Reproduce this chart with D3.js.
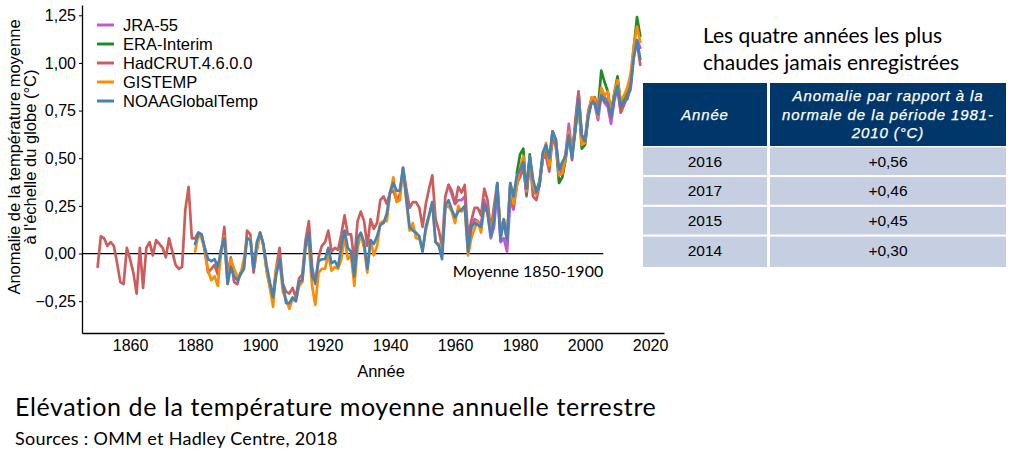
<!DOCTYPE html>
<html><head><meta charset="utf-8">
<script src="https://cdn.jsdelivr.net/npm/d3@7"></script>
<style>body{margin:0;background:#fff}svg{display:block}</style>
</head><body><svg id="c" width="1017" height="464"></svg>
<script>
// ---------------- DATA ----------------
const seriesNames  = ["JRA-55", "ERA-Interim", "HadCRUT.4.6.0.0", "GISTEMP", "NOAAGlobalTemp"];
const seriesColors = ["#c058d6", "#1f8a28", "#cd5c5c", "#ff8c00", "#4682b4"];

const hadcrutStart = 1850;
const hadcrut = [
 -0.07, 0.09, 0.08, 0.04, 0.06, 0.04,-0.05,-0.15,-0.16, 0.03,
 -0.03,-0.10,-0.21, 0.03,-0.18, 0.03, 0.06,-0.01, 0.07, 0.05,
  0.03,-0.02, 0.08, 0.01,-0.06,-0.08,-0.07, 0.23, 0.35, 0.08,
  0.08, 0.11, 0.10, 0.01,-0.10,-0.08,-0.06,-0.11, 0.00, 0.14,
 -0.11,-0.02,-0.15,-0.16,-0.10,-0.08, 0.12, 0.10,-0.10, 0.02,
  0.11, 0.05,-0.09,-0.17,-0.21,-0.07, 0.03,-0.16,-0.20,-0.21,
 -0.18,-0.23,-0.13,-0.11, 0.07, 0.17,-0.07,-0.16,-0.02, 0.04,
  0.06, 0.12, 0.01, 0.03, 0.02, 0.10, 0.20, 0.10, 0.10,-0.04,
  0.17, 0.22, 0.17, 0.04, 0.18, 0.13, 0.16, 0.28, 0.30, 0.26,
  0.32, 0.33, 0.28, 0.31, 0.45, 0.34, 0.24, 0.27, 0.27, 0.24,
  0.14, 0.26, 0.34, 0.41, 0.18, 0.12, 0.04, 0.30, 0.36, 0.33,
  0.26, 0.35, 0.32, 0.36, 0.09, 0.17, 0.24, 0.24, 0.20, 0.34,
  0.28, 0.12, 0.25, 0.37, 0.10, 0.16, 0.07, 0.36, 0.25, 0.37,
  0.40, 0.45, 0.32, 0.50, 0.30, 0.28, 0.36, 0.50, 0.51, 0.43,
  0.61, 0.56, 0.42, 0.46, 0.52, 0.64, 0.49, 0.70, 0.85, 0.62,
  0.60, 0.75, 0.81, 0.82, 0.76, 0.86, 0.82, 0.80, 0.71, 0.82,
  0.87, 0.74, 0.78, 0.82, 0.89, 1.07, 1.11, 0.99];

const gistempStart = 1880;
const gistemp = [
  0.01, 0.10, 0.08, 0.02,-0.09,-0.14,-0.12,-0.17, 0.02, 0.09,
 -0.16,-0.03,-0.08,-0.12,-0.11,-0.03, 0.08, 0.08,-0.08, 0.02,
  0.11, 0.04,-0.09,-0.18,-0.28,-0.07,-0.03,-0.20,-0.24,-0.29,
 -0.24,-0.25,-0.17,-0.15, 0.04, 0.05,-0.17,-0.27,-0.10,-0.08,
 -0.08, 0.00,-0.09,-0.07,-0.08,-0.03, 0.09,-0.03,-0.01,-0.17,
  0.03, 0.10, 0.03,-0.10, 0.07,-0.01, 0.04, 0.16, 0.17, 0.17,
  0.32, 0.40, 0.27, 0.28, 0.44, 0.28, 0.12, 0.16, 0.08, 0.08,
  0.02, 0.12, 0.20, 0.27, 0.06, 0.05, 0.00, 0.24, 0.25, 0.22,
  0.16, 0.25, 0.22, 0.24,-0.01, 0.08, 0.13, 0.17, 0.11, 0.24,
  0.22, 0.11, 0.20, 0.35, 0.12, 0.18, 0.09, 0.37, 0.26, 0.35,
  0.45, 0.51, 0.33, 0.50, 0.35, 0.31, 0.37, 0.51, 0.58, 0.46,
  0.64, 0.59, 0.41, 0.42, 0.50, 0.64, 0.52, 0.65, 0.80, 0.57,
  0.58, 0.73, 0.82, 0.81, 0.72, 0.87, 0.83, 0.85, 0.73, 0.84,
  0.91, 0.80, 0.83, 0.87, 0.94, 1.09, 1.19, 1.11];

const noaaStart = 1880;
const noaa = [
  0.05, 0.11, 0.10, 0.03,-0.03,-0.04,-0.03,-0.07, 0.02, 0.08,
 -0.16,-0.07,-0.12,-0.14,-0.11,-0.08, 0.08, 0.07,-0.08, 0.06,
  0.11, 0.05,-0.06,-0.15,-0.23,-0.11,-0.03,-0.16,-0.26,-0.26,
 -0.23,-0.25,-0.15,-0.14, 0.04, 0.11,-0.12,-0.15,-0.04,-0.03,
 -0.03, 0.03,-0.05,-0.04,-0.07, 0.04, 0.12, 0.03, 0.01,-0.12,
  0.08, 0.11, 0.06,-0.08, 0.07, 0.05, 0.09, 0.15, 0.16, 0.21,
  0.32, 0.37, 0.33, 0.33, 0.45, 0.29, 0.14, 0.12, 0.11, 0.09,
  0.01, 0.14, 0.20, 0.27, 0.06, 0.04,-0.03, 0.25, 0.28, 0.23,
  0.19, 0.22, 0.23, 0.25, 0.01, 0.14, 0.16, 0.15, 0.14, 0.26,
  0.21, 0.09, 0.18, 0.37, 0.07, 0.18, 0.07, 0.37, 0.30, 0.41,
  0.44, 0.48, 0.34, 0.51, 0.39, 0.32, 0.36, 0.53, 0.57, 0.50,
  0.64, 0.60, 0.44, 0.48, 0.51, 0.62, 0.50, 0.64, 0.81, 0.62,
  0.59, 0.72, 0.79, 0.79, 0.73, 0.83, 0.80, 0.79, 0.72, 0.82,
  0.88, 0.77, 0.80, 0.81, 0.88, 1.03, 1.12, 1.02];

const eraStart = 1979;
const eraInterim = [
  0.42, 0.52, 0.55, 0.31, 0.52, 0.36, 0.33, 0.38, 0.52, 0.55,
  0.46, 0.64, 0.58, 0.37, 0.40, 0.49, 0.62, 0.52, 0.66, 0.80,
  0.55, 0.57, 0.72, 0.80, 0.81, 0.76, 0.96, 0.90, 0.85, 0.74,
  0.84, 0.93, 0.78, 0.82, 0.85, 0.88, 1.08, 1.24, 1.14];

const jraStart = 1958;
const jra55 = [
  0.36, 0.31, 0.26, 0.28, 0.28, 0.30, 0.06, 0.13, 0.18, 0.17,
  0.15, 0.28, 0.22, 0.08, 0.14, 0.34, 0.06, 0.08, 0.01, 0.28,
  0.23, 0.36, 0.42, 0.47, 0.30, 0.50, 0.33, 0.31, 0.36, 0.50,
  0.54, 0.46, 0.64, 0.60, 0.41, 0.43, 0.52, 0.68, 0.53, 0.66,
  0.85, 0.60, 0.58, 0.74, 0.80, 0.78, 0.70, 0.83, 0.79, 0.77,
  0.68, 0.80, 0.87, 0.74, 0.79, 0.82, 0.86, 1.03, 1.12, 1.08];

const yTicks = [-0.25, 0, 0.25, 0.5, 0.75, 1.0, 1.25];
const xTicks = [1860, 1880, 1900, 1920, 1940, 1960, 1980, 2000, 2020];

const baselineLabel = "Moyenne 1850-1900";
const baselineEnd = 2005.6;

const tableTitle = ["Les quatre années les plus", "chaudes jamais enregistrées"];
const tableHeadYear = "Année";
const tableHeadAnom = ["Anomalie par rapport à la", "normale de la période 1981-", "2010 (°C)"];
const tableYears = ["2016", "2017", "2015", "2014"];
const tableValues = ["+0,56", "+0,46", "+0,45", "+0,30"];

const chartTitle = "Elévation de la température moyenne annuelle terrestre";
const chartSource = "Sources : OMM et Hadley Centre, 2018";

// ---------------- CHART ----------------
const svg = d3.select("#c");
svg.append("rect").attr("width",1017).attr("height",464).attr("fill","#fff");

const x = d3.scaleLinear().domain([1845.2, 2024.3]).range([82, 664]);
const y = d3.scaleLinear().domain([-0.417, 1.304]).range([333, 5]);

const axisFont = "'Liberation Sans', Arial, sans-serif";
const calFont = "Lato, 'Open Sans', sans-serif";

function toPts(start, vals){ return vals.map((v,i)=>({year:start+i, v})); }
const seriesData = [toPts(jraStart, jra55), toPts(eraStart, eraInterim), toPts(hadcrutStart, hadcrut),
                    toPts(gistempStart, gistemp), toPts(noaaStart, noaa)];

// zero line
svg.append("line").attr("x1", x.range()[0]).attr("x2", x(baselineEnd))
  .attr("y1", y(0)).attr("y2", y(0)).attr("stroke","#000").attr("stroke-width",1.2);

const line = d3.line().x(d=>x(d.year)).y(d=>y(d.v));
svg.append("g").selectAll("path").data(seriesData).join("path")
  .attr("d", line).attr("fill","none")
  .attr("stroke",(d,i)=>seriesColors[i]).attr("stroke-width",2.7)
  .attr("stroke-linejoin","round").attr("stroke-linecap","round");

// axes
const yAxis = d3.axisLeft(y).tickValues(yTicks).tickSize(3).tickSizeOuter(0).tickPadding(3)
  .tickFormat(d=>d3.format(".2f")(d).replace(".", ",").replace("-", "−"));
const gy = svg.append("g").attr("transform",`translate(${x.range()[0]},0)`).call(yAxis);
const xAxis = d3.axisBottom(x).tickValues(xTicks).tickSize(0).tickSizeOuter(0).tickPadding(7).tickFormat(d3.format("d"));
const gx = svg.append("g").attr("transform",`translate(0,${y.range()[0]})`).call(xAxis);
[gx, gy].forEach(g=>{
  g.select(".domain").attr("stroke","#000").attr("stroke-width",1.3);
  g.selectAll(".tick line").attr("stroke","#000");
  g.selectAll("text").attr("font-family", axisFont).attr("font-size", 16).attr("fill","#000");
});

// axis titles
svg.append("text").attr("x",381).attr("y",377).attr("text-anchor","middle")
  .attr("font-family",axisFont).attr("font-size",16.5).text("Année");
const yt = svg.append("text").attr("transform","translate(20,157) rotate(-90)")
  .attr("text-anchor","middle").attr("font-family",axisFont).attr("font-size",16.5);
yt.append("tspan").attr("x",0).attr("dy",0).text("Anomalie de la température moyenne");
yt.append("tspan").attr("x",0).attr("dy",15.5).text("à l'échelle du globe (°C)");

// baseline label
svg.append("text").attr("x", x(baselineEnd)).attr("y", 277).attr("text-anchor","end")
  .attr("font-family",calFont).attr("font-size",16).text(baselineLabel);

// legend
const lg = svg.append("g");
seriesNames.forEach((n,i)=>{
  const yy = 25 + i*19;
  lg.append("line").attr("x1",97).attr("x2",114).attr("y1",yy).attr("y2",yy)
    .attr("stroke",seriesColors[i]).attr("stroke-width",3);
  lg.append("text").attr("x",123).attr("y",yy+5.5).attr("font-family",axisFont)
    .attr("font-size",16.5).text(n);
});

// ---------------- TABLE ----------------
const tg = svg.append("g");
tableTitle.forEach((t,i)=>{
  tg.append("text").attr("x",703).attr("y",43+i*27).attr("font-family",calFont)
    .attr("font-size",21).attr("fill","#000").text(t);
});
const col1 = [643, 767], col2 = [770, 1006];
const navy = "#00376b", rowBg = "#c6cee1";
tg.append("rect").attr("x",col1[0]).attr("y",83).attr("width",col1[1]-col1[0]).attr("height",63).attr("fill",navy);
tg.append("rect").attr("x",col2[0]).attr("y",83).attr("width",col2[1]-col2[0]).attr("height",63).attr("fill",navy);
const hdrFont = "'Liberation Sans', Arial, sans-serif";
tg.append("text").attr("x",(col1[0]+col1[1])/2).attr("y",120).attr("text-anchor","middle")
  .attr("font-family",hdrFont).attr("font-style","italic").attr("font-size",15)
  .attr("letter-spacing",0.8).attr("fill","#fff").attr("stroke","#fff").attr("stroke-width",0.25).text(tableHeadYear);
tableHeadAnom.forEach((t,i)=>{
  tg.append("text").attr("x",(col2[0]+col2[1])/2).attr("y",101+i*18.5).attr("text-anchor","middle")
    .attr("font-family",hdrFont).attr("font-style","italic").attr("font-size",15)
    .attr("letter-spacing",0.9).attr("fill","#fff").attr("stroke","#fff").attr("stroke-width",0.25).text(t);
});
const rowY = d3.scaleBand().domain(d3.range(tableYears.length)).range([147.3, 264.3]).paddingInner(0.07).paddingOuter(0);
tableYears.forEach((yr,i)=>{
  const top = rowY(i), h = rowY.bandwidth();
  tg.append("rect").attr("x",col1[0]).attr("y",top).attr("width",col1[1]-col1[0]).attr("height",h).attr("fill",rowBg);
  tg.append("rect").attr("x",col2[0]).attr("y",top).attr("width",col2[1]-col2[0]).attr("height",h).attr("fill",rowBg);
  tg.append("text").attr("x",(col1[0]+col1[1])/2).attr("y",top+h/2+5.5).attr("text-anchor","middle")
    .attr("font-family",hdrFont).attr("font-size",15.5).text(yr);
  tg.append("text").attr("x",(col2[0]+col2[1])/2).attr("y",top+h/2+5.5).attr("text-anchor","middle")
    .attr("font-family",hdrFont).attr("font-size",15.5).text(tableValues[i]);
});
// cut-off edge of a following row
tg.append("rect").attr("x",col1[0]).attr("y",264).attr("width",col1[1]-col1[0]).attr("height",3).attr("fill",rowBg);
tg.append("rect").attr("x",col2[0]).attr("y",264).attr("width",col2[1]-col2[0]).attr("height",3).attr("fill",rowBg);

// ---------------- TITLES ----------------
svg.append("text").attr("x",15).attr("y",416).attr("font-family",calFont).attr("font-size",25)
  .attr("letter-spacing",0.6).attr("fill","#000").text(chartTitle);
svg.append("text").attr("x",15).attr("y",445).attr("font-family",calFont).attr("font-size",18)
  .attr("letter-spacing",0.3).attr("fill","#000").text(chartSource);
</script></body></html>
